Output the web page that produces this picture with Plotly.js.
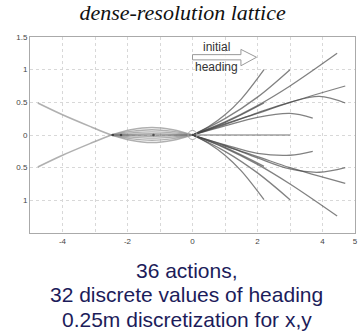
<!DOCTYPE html>
<html>
<head>
<meta charset="utf-8">
<script src="https://cdn.plot.ly/plotly-3.0.1.min.js"></script>
<style>html,body{margin:0;padding:0;background:#fff;}#chart{width:358px;height:332px;}</style>
</head>
<body>
<div id="chart"></div>
<script>
// Forward motion primitives (upper half)
const fwdA_x = [0, 0.5, 1, 1.5, 2.2];   const fwdA_y = [0, 0.13, 0.31, 0.55, 1.0];
const fwdB_x = [0, 1, 2, 3];            const fwdB_y = [0, 0.25, 0.58, 1.0];
const fwdC_x = [0, 1, 2, 3, 4.45];      const fwdC_y = [0, 0.2, 0.45, 0.75, 1.25];
const fwdD_x = [0, 1, 2, 3, 4.7];       const fwdD_y = [0, 0.17, 0.33, 0.5, 0.75];
const fwdE_x = [0, 1, 2, 3, 3.9, 4.7];  const fwdE_y = [0, 0.16, 0.34, 0.5, 0.59, 0.49];
const fwdF_x = [0, 1, 2.2];             const fwdF_y = [0, 0.19, 0.49];
const fwdG_x = [0, 1, 2, 3, 3.7];       const fwdG_y = [0, 0.14, 0.27, 0.33, 0.26];
const fwdH_x = [0, 3];                  const fwdH_y = [0, 0];
// Forward motion primitives (lower half)
const fwdA2_y = [0, -0.13, -0.31, -0.55, -0.99];
const fwdB2_y = [0, -0.25, -0.58, -0.99];
const fwdC2_y = [0, -0.2, -0.45, -0.75, -1.24];
const fwdD2_y = [0, -0.17, -0.33, -0.5, -0.74];
const fwdE2_y = [0, -0.16, -0.35, -0.52, -0.57, -0.5];
const fwdF2_y = [0, -0.19, -0.48];
const fwdG2_y = [0, -0.15, -0.28, -0.31, -0.25];
// Backward lenses between 0 and -2.5
const lens_x = [0, -0.6, -1.25, -1.9, -2.5];
const lens1_y = [0, 0.08, 0.115, 0.08, 0];
const lens2_y = [0, 0.055, 0.08, 0.055, 0];
const lens3_y = [0, 0.032, 0.048, 0.032, 0];
const lens4_y = [0, 0.014, 0.022, 0.014, 0];
const lens1b_y = [0, -0.08, -0.115, -0.08, 0];
const lens2b_y = [0, -0.055, -0.08, -0.055, 0];
const lens3b_y = [0, -0.032, -0.048, -0.032, 0];
const lens4b_y = [0, -0.014, -0.022, -0.014, 0];
const back_x = [0, -2.5];               const back_y = [0, 0];
// Far backward curves
const far_x = [-2.5, -3.1, -4.0, -4.76];
const farUp_y = [0, 0.12, 0.31, 0.49];
const farDn_y = [0, -0.12, -0.31, -0.49];
// Nodes
const node_x = [-2.45, -2.2, -1.2];     const node_y = [0, 0, 0];
// Axis ticks
const xTickVals = [-4, -3, -2, -1, 0, 1, 2, 3, 4, 5];
const xTickText = ['-4', '', '-2', '', '0', '', '2', '', '4', '5'];
const yTickVals = [1.5, 1, 0.5, 0, -0.5, -1];
const yTickText = ['1.5', '1', '0.5', '0', '0.5', '1'];
// Caption lines
const captionLines = ['36 actions,', '32 discrete values of heading', '0.25m discretization for x,y'];

const fwdCol = 'rgba(70,70,70,0.68)';
const backCol = 'rgba(150,150,150,0.75)';
function ln(x, y, color, w) {
  return {x: x, y: y, type: 'scatter', mode: 'lines',
    line: {color: color, width: w, shape: 'spline', smoothing: 1}, hoverinfo: 'skip', showlegend: false};
}
const traces = [
  ln(far_x, farUp_y, backCol, 1.6), ln(far_x, farDn_y, backCol, 1.6),
  ln(lens_x, lens1_y, backCol, 1.4), ln(lens_x, lens2_y, backCol, 1.3),
  ln(lens_x, lens3_y, backCol, 1.3), ln(lens_x, lens4_y, backCol, 1.3),
  ln(lens_x, lens1b_y, backCol, 1.4), ln(lens_x, lens2b_y, backCol, 1.3),
  ln(lens_x, lens3b_y, backCol, 1.3), ln(lens_x, lens4b_y, backCol, 1.3),
  ln(back_x, back_y, 'rgba(90,90,90,0.8)', 1.2),
  ln(fwdA_x, fwdA_y, fwdCol, 1.3), ln(fwdB_x, fwdB_y, fwdCol, 1.3),
  ln(fwdC_x, fwdC_y, fwdCol, 1.3), ln(fwdD_x, fwdD_y, fwdCol, 1.3),
  ln(fwdE_x, fwdE_y, fwdCol, 1.3), ln(fwdF_x, fwdF_y, fwdCol, 1.3),
  ln(fwdG_x, fwdG_y, fwdCol, 1.3), ln(fwdH_x, fwdH_y, 'rgba(120,120,120,0.7)', 1.3),
  ln(fwdA_x, fwdA2_y, fwdCol, 1.3), ln(fwdB_x, fwdB2_y, fwdCol, 1.3),
  ln(fwdC_x, fwdC2_y, fwdCol, 1.3), ln(fwdD_x, fwdD2_y, fwdCol, 1.3),
  ln(fwdE_x, fwdE2_y, fwdCol, 1.3), ln(fwdF_x, fwdF2_y, fwdCol, 1.3),
  ln(fwdG_x, fwdG2_y, fwdCol, 1.3),
  {x: node_x, y: node_y, type: 'scatter', mode: 'markers', marker: {color: 'rgba(40,40,40,0.7)', size: 2.5},
   hoverinfo: 'skip', showlegend: false},
  {x: [0], y: [0], type: 'scatter', mode: 'markers',
   marker: {symbol: 'circle-open', color: '#aaa', size: 9, line: {width: 1}}, hoverinfo: 'skip', showlegend: false}
];

const captionY = [-0.12, -0.247, -0.37];
const annotations = [
  {xref: 'x', yref: 'y', x: 0.73, y: 1.34, text: 'initial', showarrow: false,
   font: {family: 'Arial', size: 12, color: '#333'}},
  {xref: 'x', yref: 'y', x: 0.74, y: 1.04, text: 'heading', showarrow: false,
   font: {family: 'Arial', size: 12, color: '#333'}}
];
captionLines.forEach(function (t, i) {
  annotations.push({xref: 'paper', yref: 'paper', x: 0.482, y: captionY[i], xanchor: 'center', yanchor: 'top',
    text: t, showarrow: false, font: {family: 'Arial', size: 21, color: '#1c1c5a'}});
});

const layout = {
  width: 358, height: 332,
  margin: {l: 30, r: 3, t: 37, b: 99},
  paper_bgcolor: '#fff', plot_bgcolor: '#fff',
  title: {text: '<i>dense-resolution lattice</i>', font: {family: 'Liberation Serif', size: 22, color: '#111'},
    x: 0.51, xanchor: 'center', yref: 'container', y: 0.962, yanchor: 'middle'},
  xaxis: {range: [-5, 5], tickvals: xTickVals, ticktext: xTickText, showgrid: true,
    gridcolor: '#d8d8d8', griddash: 'dot', zeroline: false, showline: true, mirror: true,
    linecolor: '#aaa', linewidth: 1, ticks: '', tickfont: {family: 'Arial', size: 8, color: '#444'}, fixedrange: true},
  yaxis: {range: [-1.5, 1.5], tickvals: yTickVals, ticktext: yTickText, showgrid: true,
    gridcolor: '#d8d8d8', griddash: 'dot', zeroline: false, showline: true, mirror: true,
    linecolor: '#aaa', linewidth: 1, ticks: '', tickfont: {family: 'Arial', size: 8, color: '#444'}, fixedrange: true},
  shapes: [{type: 'path', xref: 'x', yref: 'y',
    path: 'M 0 1.15 L 1.49 1.15 L 1.49 1.06 L 1.97 1.19 L 1.49 1.31 L 1.49 1.23 L 0 1.23 Z',
    line: {color: '#999', width: 1}, fillcolor: 'rgba(255,255,255,0.9)'}],
  annotations: annotations
};
Plotly.newPlot('chart', traces, layout, {displayModeBar: false, staticPlot: true});
</script>
</body>
</html>
